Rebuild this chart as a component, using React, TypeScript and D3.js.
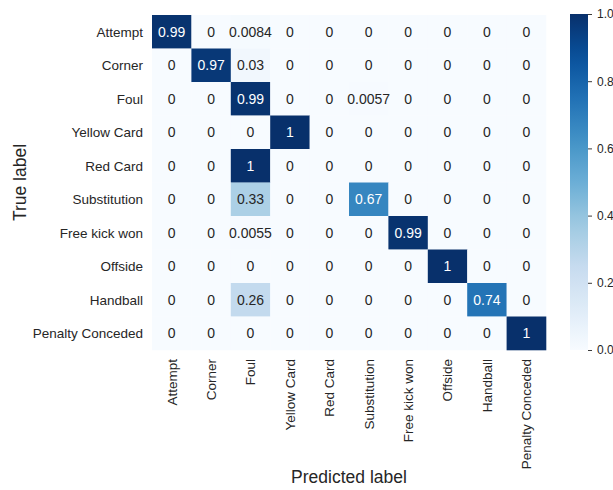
import { useEffect, useRef } from 'react'
import * as d3 from 'd3'

const labels = [
  'Attempt',
  'Corner',
  'Foul',
  'Yellow Card',
  'Red Card',
  'Substitution',
  'Free kick won',
  'Offside',
  'Handball',
  'Penalty Conceded',
]

const rowAttempt = [0.99, 0, 0.0084, 0, 0, 0, 0, 0, 0, 0]
const rowCorner = [0, 0.97, 0.03, 0, 0, 0, 0, 0, 0, 0]
const rowFoul = [0, 0, 0.99, 0, 0, 0.0057, 0, 0, 0, 0]
const rowYellow = [0, 0, 0, 1, 0, 0, 0, 0, 0, 0]
const rowRed = [0, 0, 1, 0, 0, 0, 0, 0, 0, 0]
const rowSubstitution = [0, 0, 0.33, 0, 0, 0.67, 0, 0, 0, 0]
const rowFreeKick = [0, 0, 0.0055, 0, 0, 0, 0.99, 0, 0, 0]
const rowOffside = [0, 0, 0, 0, 0, 0, 0, 1, 0, 0]
const rowHandball = [0, 0, 0.26, 0, 0, 0, 0, 0, 0.74, 0]
const rowPenalty = [0, 0, 0, 0, 0, 0, 0, 0, 0, 1]

const matrix = [
  rowAttempt,
  rowCorner,
  rowFoul,
  rowYellow,
  rowRed,
  rowSubstitution,
  rowFreeKick,
  rowOffside,
  rowHandball,
  rowPenalty,
]

const colorbarTicks = [0, 0.2, 0.4, 0.6, 0.8, 1.0]

// ColorBrewer Blues, interpolado linearmente como no matplotlib
const blues9 = ['#f7fbff', '#deebf7', '#c6dbef', '#9ecae1', '#6baed6', '#4292c6', '#2171b5', '#08519c', '#08306b']

const FONT = '"Liberation Sans", Arial, sans-serif'
const TEXT = '#262626'

const App = () => {
  const ref = useRef<SVGSVGElement>(null)

  useEffect(() => {
    const svg = d3.select(ref.current)
    svg.selectAll('*').remove()

    const width = 613
    const height = 490
    const margin = { top: 15, right: 67, bottom: 140, left: 152 }
    const w = width - margin.left - margin.right
    const h = height - margin.top - margin.bottom

    const color = d3
      .scaleLinear<string>()
      .domain(blues9.map((_, i) => i / (blues9.length - 1)))
      .range(blues9)
      .clamp(true)

    const x = d3.scaleBand().domain(labels).range([0, w])
    const y = d3.scaleBand().domain(labels).range([0, h])

    const g = svg.append('g').attr('transform', `translate(${margin.left},${margin.top})`)

    const cells = matrix.flatMap((row, i) => row.map((v, j) => ({ r: labels[i], c: labels[j], v })))

    g.selectAll('rect.cell')
      .data(cells)
      .enter()
      .append('rect')
      .attr('class', 'cell')
      .attr('x', (d) => x(d.c)!)
      .attr('y', (d) => y(d.r)!)
      .attr('width', x.bandwidth() + 0.3)
      .attr('height', y.bandwidth() + 0.3)
      .attr('fill', (d) => color(d.v))

    // Cor do texto pela luminância (como o seaborn)
    const lum = (c: string) => {
      const rgb = d3.rgb(c)
      const f = (u: number) => {
        const s = u / 255
        return s <= 0.03928 ? s / 12.92 : Math.pow((s + 0.055) / 1.055, 2.4)
      }
      return 0.2126 * f(rgb.r) + 0.7152 * f(rgb.g) + 0.0722 * f(rgb.b)
    }
    const fmt = d3.format('.2~g')

    g.selectAll('text.annot')
      .data(cells)
      .enter()
      .append('text')
      .attr('class', 'annot')
      .attr('x', (d) => x(d.c)! + x.bandwidth() / 2)
      .attr('y', (d) => y(d.r)! + y.bandwidth() / 2)
      .attr('dy', '0.36em')
      .attr('text-anchor', 'middle')
      .attr('font-family', FONT)
      .attr('font-size', 14)
      .attr('fill', (d) => (lum(color(d.v)) > 0.408 ? TEXT : '#ffffff'))
      .text((d) => fmt(d.v))

    // Rótulos do eixo Y
    g.selectAll('text.ylab')
      .data(labels)
      .enter()
      .append('text')
      .attr('class', 'ylab')
      .attr('x', -9)
      .attr('y', (d) => y(d)! + y.bandwidth() / 2)
      .attr('dy', '0.36em')
      .attr('text-anchor', 'end')
      .attr('font-family', FONT)
      .attr('font-size', 13.5)
      .attr('fill', TEXT)
      .text((d) => d)

    // Rótulos do eixo X (rotacionados)
    g.selectAll('text.xlab')
      .data(labels)
      .enter()
      .append('text')
      .attr('class', 'xlab')
      .attr(
        'transform',
        (d) => `translate(${x(d)! + x.bandwidth() / 2},${h + 9}) rotate(-90)`
      )
      .attr('dy', '0.36em')
      .attr('text-anchor', 'end')
      .attr('font-family', FONT)
      .attr('font-size', 13.5)
      .attr('fill', TEXT)
      .text((d) => d)

    // Títulos dos eixos
    svg
      .append('text')
      .attr('x', margin.left + w / 2)
      .attr('y', 483)
      .attr('text-anchor', 'middle')
      .attr('font-family', FONT)
      .attr('font-size', 17.5)
      .attr('fill', TEXT)
      .text('Predicted label')

    svg
      .append('text')
      .attr('transform', `translate(26,${margin.top + h / 2}) rotate(-90)`)
      .attr('text-anchor', 'middle')
      .attr('font-family', FONT)
      .attr('font-size', 17.5)
      .attr('fill', TEXT)
      .text('True label')

    // Barra de cores
    const cbX = 570
    const cbW = 18
    const cbScale = d3.scaleLinear().domain([0, 1]).range([margin.top + h, margin.top - 1])
    const defs = svg.append('defs')
    const grad = defs
      .append('linearGradient')
      .attr('id', 'cbgrad')
      .attr('x1', 0)
      .attr('y1', 1)
      .attr('x2', 0)
      .attr('y2', 0)
    d3.range(0, 1.0001, 0.05).forEach((t) => {
      grad.append('stop').attr('offset', t).attr('stop-color', color(t))
    })
    svg
      .append('rect')
      .attr('x', cbX)
      .attr('y', margin.top - 1)
      .attr('width', cbW)
      .attr('height', h + 1)
      .attr('fill', 'url(#cbgrad)')

    const cbAxis = svg
      .append('g')
      .attr('transform', `translate(${cbX + cbW},0)`)
      .call(d3.axisRight(cbScale).tickValues(colorbarTicks).tickSize(4).tickPadding(5).tickFormat(d3.format('.1f')))
    cbAxis.select('.domain').remove()
    cbAxis.selectAll('line').attr('stroke', TEXT).attr('stroke-width', 0.9)
    cbAxis
      .selectAll('text')
      .attr('font-family', FONT)
      .attr('font-size', 12)
      .attr('fill', TEXT)
  }, [])

  return (
    <svg
      ref={ref}
      width={613}
      height={490}
      style={{ position: 'absolute', left: 0, top: 0, background: '#ffffff' }}
    />
  )
}

export default App
